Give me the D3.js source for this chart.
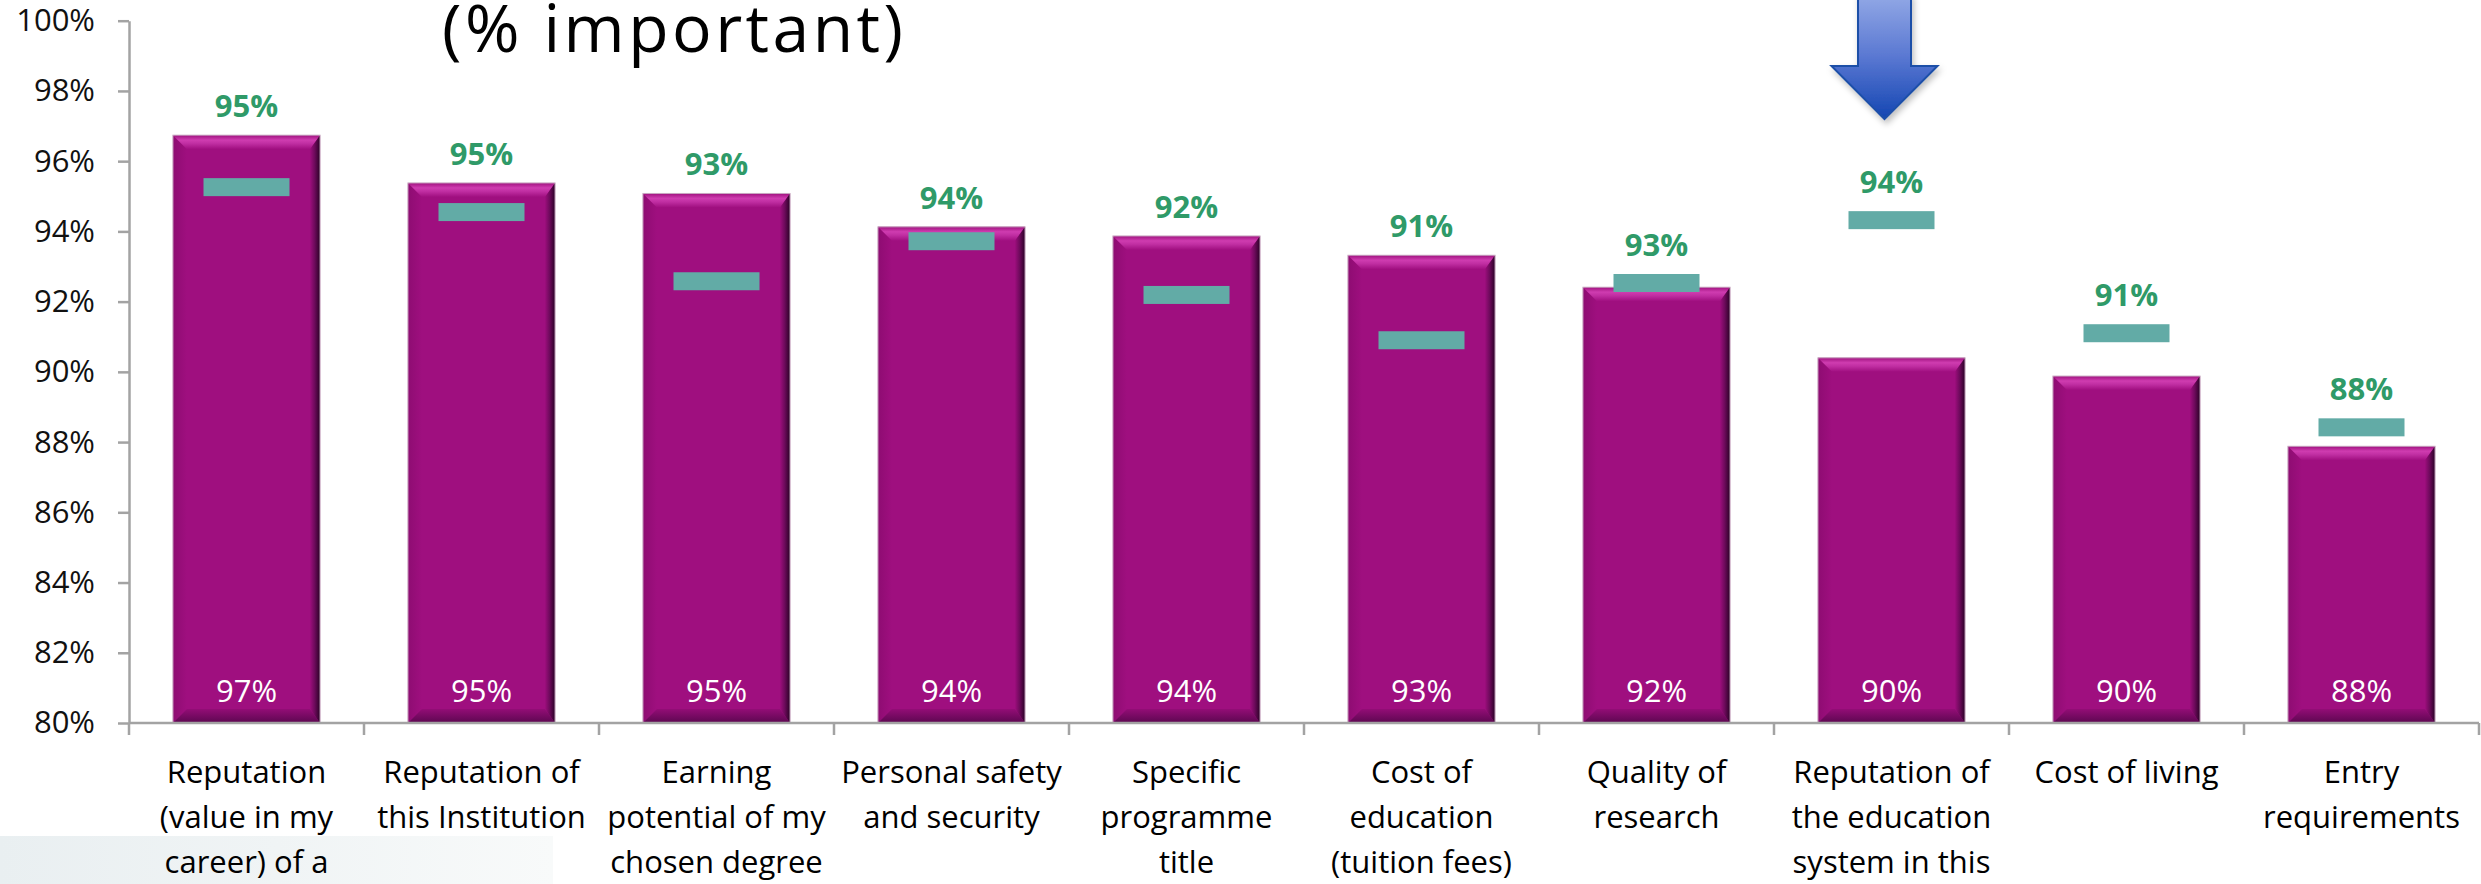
<!DOCTYPE html>
<html>
<head>
<meta charset="utf-8">
<script src="https://cdn.jsdelivr.net/npm/d3@7"></script>
<style>
  html, body { margin: 0; padding: 0; background: #ffffff; }
  svg { display: block; }
  text { font-family: "Open Sans", "Liberation Sans", sans-serif; }
</style>
</head>
<body>
<svg id="chart" width="2481" height="884"></svg>
<script>
// ---- data ----
const categories = [
  "Reputation (value in my career) of a",
  "Reputation of this Institution",
  "Earning potential of my chosen degree",
  "Personal safety and security",
  "Specific programme title",
  "Cost of education (tuition fees)",
  "Quality of research",
  "Reputation of the education system in this",
  "Cost of living",
  "Entry requirements"
];
const categoryLines = [
  ["Reputation", "(value in my", "career) of a"],
  ["Reputation of", "this Institution"],
  ["Earning", "potential of my", "chosen degree"],
  ["Personal safety", "and security"],
  ["Specific", "programme", "title"],
  ["Cost of", "education", "(tuition fees)"],
  ["Quality of", "research"],
  ["Reputation of", "the education", "system in this"],
  ["Cost of living"],
  ["Entry", "requirements"]
];
const barValues    = [96.74, 95.38, 95.08, 94.13, 93.87, 93.32, 92.41, 90.40, 89.88, 87.88];
const barLabels    = ["97%", "95%", "95%", "94%", "94%", "93%", "92%", "90%", "90%", "88%"];
const markerValues = [95.26, 94.55, 92.58, 93.72, 92.19, 90.90, 92.53, 94.32, 91.10, 88.42];
const markerLabels = ["95%", "95%", "93%", "94%", "92%", "91%", "93%", "94%", "91%", "88%"];
const yTicks = [80, 82, 84, 86, 88, 90, 92, 94, 96, 98, 100];
const titleText = "(% important)";
const highlightIndex = 7;

// ---- layout ----
const svg = d3.select("#chart");
const plotLeft = 129, plotRight = 2479, plotTop = 20.7, plotBottom = 723;

const x = d3.scaleBand().domain(d3.range(categories.length))
  .range([plotLeft, plotRight]).paddingInner(0.374).paddingOuter(0.187);
const y = d3.scaleLinear().domain([80, 100]).range([plotBottom, plotTop]);

const defs = svg.append("defs");
function lg(id, x1, y1, x2, y2, stops) {
  const g = defs.append("linearGradient").attr("id", id)
    .attr("x1", x1).attr("y1", y1).attr("x2", x2).attr("y2", y2);
  stops.forEach(s => g.append("stop").attr("offset", s[0]).attr("stop-color", s[1]));
}
lg("topBevel", 0, 0, 0, 1, [[0, "#a0127f"], [0.35, "#cf3cb0"], [0.6, "#c02ea2"], [1, "#a00f80"]]);
lg("rightBevel", 0, 0, 1, 0, [[0, "#9c0e7c"], [0.45, "#6e0a5c"], [1, "#2a0226"]]);
lg("bottomBevel", 0, 0, 0, 1, [[0, "#930d76"], [1, "#5c0750"]]);
lg("leftBevel", 0, 0, 1, 0, [[0, "#8e0c72"], [1, "#9f0f7f"]]);
lg("arrowGrad", 0, 0, 0, 1, [[0, "#93a9e6"], [0.5, "#5a78d2"], [1, "#1446b2"]]);
lg("photoGrad", 0, 0, 1, 0, [[0, "#e9eff1"], [0.5, "#f0f4f5"], [1, "#f8fafa"]]);
const f = defs.append("filter").attr("id", "shadow").attr("x", "-30%").attr("y", "-30%").attr("width", "160%").attr("height", "160%");
f.append("feDropShadow").attr("dx", 2).attr("dy", 4).attr("stdDeviation", 3).attr("flood-color", "#000").attr("flood-opacity", 0.25);

// faint background photo at bottom-left
svg.append("rect").attr("x", 0).attr("y", 836).attr("width", 553).attr("height", 48)
  .attr("fill", "url(#photoGrad)");

// title (partially visible)
svg.append("text").attr("x", 442).attr("y", 52)
  .attr("font-size", 66).attr("fill", "#000")
  .attr("textLength", 461).attr("lengthAdjust", "spacing")
  .text(titleText);

// bars
const bw = x.bandwidth();
const bars = svg.append("g").selectAll("g.bar").data(barValues).join("g").attr("class", "bar");
bars.each(function(v, i) {
  const g = d3.select(this);
  const x0 = x(i), x1 = x(i) + bw, y0 = y(v), y1 = y(80);
  const b = 14, br = 10;
  g.append("rect").attr("x", x0).attr("y", y0).attr("width", bw).attr("height", y1 - y0)
    .attr("fill", "#9f0f7f");
  g.append("polygon").attr("points", [[x0, y1], [x0 + b, y1 - b], [x0 + b, y0 + b], [x0, y0]].join(" "))
    .attr("fill", "url(#leftBevel)");
  g.append("polygon").attr("points", [[x0, y1], [x1, y1], [x1 - br, y1 - b], [x0 + b, y1 - b]].join(" "))
    .attr("fill", "url(#bottomBevel)");
  g.append("polygon").attr("points", [[x0, y0], [x1, y0], [x1 - br, y0 + b], [x0 + b, y0 + b]].join(" "))
    .attr("fill", "url(#topBevel)");
  g.append("polygon").attr("points", [[x1, y0], [x1, y1], [x1 - br, y1 - b], [x1 - br, y0 + b]].join(" "))
    .attr("fill", "url(#rightBevel)");
  g.append("rect").attr("x", x0).attr("y", y0).attr("width", bw).attr("height", y1 - y0)
    .attr("fill", "none").attr("stroke", "#c9aac2").attr("stroke-width", 1);
});

// bar value labels (white, inside near bottom)
svg.append("g").selectAll("text").data(barLabels).join("text")
  .attr("x", (d, i) => x(i) + bw / 2).attr("y", y(80) - 21)
  .attr("text-anchor", "middle").attr("font-size", 31).attr("fill", "#ffffff")
  .text(d => d);

// teal markers
const mw = 86, mh = 18;
svg.append("g").selectAll("rect").data(markerValues).join("rect")
  .attr("x", (d, i) => x(i) + bw / 2 - mw / 2)
  .attr("y", d => y(d) - mh / 2)
  .attr("width", mw).attr("height", mh)
  .attr("fill", "#62aba6");

// green marker labels
svg.append("g").selectAll("text").data(markerLabels).join("text")
  .attr("x", (d, i) => x(i) + bw / 2)
  .attr("y", (d, i) => Math.min(y(barValues[i]), y(markerValues[i]) - mh / 2) - 29 + 11)
  .attr("text-anchor", "middle").attr("font-size", 31).attr("font-weight", 700)
  .attr("fill", "#2f9a68")
  .text(d => d);

// y axis
const yAxis = svg.append("g").attr("transform", `translate(${plotLeft},0)`)
  .call(d3.axisLeft(y).tickValues(yTicks).tickFormat(d => d + "%").tickSize(11).tickPadding(23).tickSizeOuter(0));
yAxis.selectAll("path, line").attr("stroke", "#a3a3a3").attr("stroke-width", 2.5);
yAxis.selectAll("text").attr("font-size", 31).attr("fill", "#111").attr("font-family", "Open Sans");

// x axis
const xAxis = svg.append("g").attr("transform", `translate(0,${plotBottom})`);
xAxis.append("line").attr("x1", plotLeft).attr("x2", plotRight).attr("y1", 0).attr("y2", 0)
  .attr("stroke", "#a3a3a3").attr("stroke-width", 2.5);
const boundaries = d3.range(categories.length).map(i => x(i) - x.step() * x.paddingInner() / 2).concat([plotRight]);
xAxis.selectAll("line.tick").data(boundaries).join("line").attr("class", "tick")
  .attr("x1", d => d).attr("x2", d => d).attr("y1", 0).attr("y2", 12)
  .attr("stroke", "#a3a3a3").attr("stroke-width", 2.5);

// category labels
const catG = svg.append("g").selectAll("text").data(categoryLines).join("text")
  .attr("text-anchor", "middle").attr("font-size", 31).attr("fill", "#000");
catG.each(function(lines, i) {
  const t = d3.select(this);
  lines.forEach((ln, k) => {
    t.append("tspan").attr("x", x(i) + bw / 2).attr("y", 783 + k * 45).text(ln);
  });
});

// highlight arrow above the highlighted category
const ax = x(highlightIndex) + bw / 2 - 7;
svg.append("path")
  .attr("d", `M${ax - 26.5},-6 L${ax + 26.5},-6 L${ax + 26.5},66 L${ax + 53},66 L${ax},119 L${ax - 53},66 L${ax - 26.5},66 Z`)
  .attr("fill", "url(#arrowGrad)").attr("stroke", "#1f4fa8").attr("stroke-width", 2)
  .attr("filter", "url(#shadow)");
</script>
</body>
</html>
